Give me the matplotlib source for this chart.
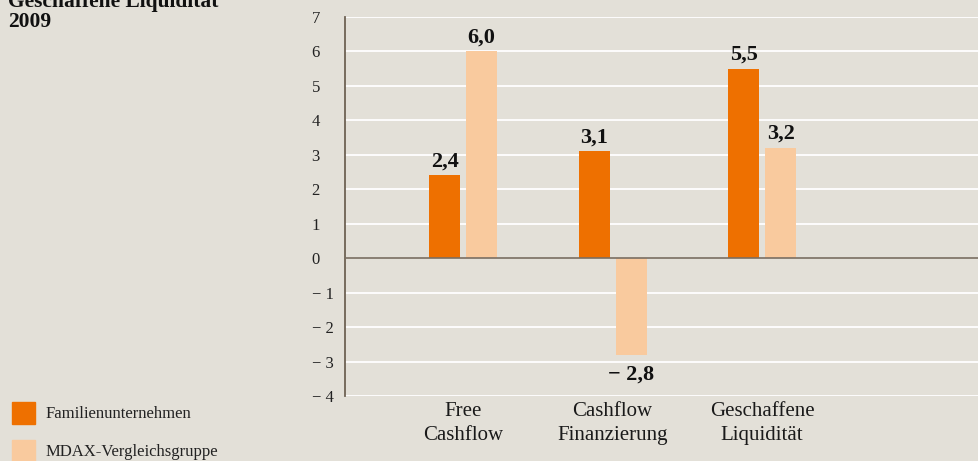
import numpy as np
import matplotlib.pyplot as plt

# data
categories = ['Free\nCashflow', 'Cashflow\nFinanzierung', 'Geschaffene\nLiquidität']
familien = [2.4, 3.1, 5.5]
mdax = [6.0, -2.8, 3.2]
series_names = ['Familienunternehmen', 'MDAX-Vergleichsgruppe']
y_ticks = [7, 6, 5, 4, 3, 2, 1, 0, -1, -2, -3, -4]

bg = '#E3E0D8'
orange = '#EE7000'
light = '#F9CA9E'
serif = 'Liberation Serif'


def fmt(v):
    # German decimal comma, spaced minus sign
    s = f'{abs(v):.1f}'.replace('.', ',')
    return ('\u2212 ' + s) if v < 0 else s


def tick_label(v):
    return ('\u2212 ' + str(abs(v))) if v < 0 else str(v)


fig = plt.figure(figsize=(9.79, 4.61), dpi=100, facecolor=bg)
ax = fig.add_axes([345 / 979, 65 / 461, 634 / 979, 379 / 461])
ax.set_facecolor(bg)

x = np.arange(len(categories))
w = 31 / 149.5
off = 18.5 / 149.5
b1 = ax.bar(x - off, familien, width=w, color=orange, zorder=3)
b2 = ax.bar(x + off, mdax, width=w, color=light, zorder=3)

ax.set_xlim(-0.79, 3.45)
ax.set_ylim(-4, 7)

# gridlines
for t in y_ticks:
    if t != 0:
        ax.axhline(t, color='white', lw=1.3, zorder=1)
ax.axhline(0, color='#7A6E62', lw=1.2, zorder=4)

for s in ['top', 'right', 'bottom']:
    ax.spines[s].set_visible(False)
ax.spines['left'].set_color('#6E6254')
ax.spines['left'].set_linewidth(1.3)

ax.set_yticks(y_ticks)
ax.set_yticklabels([tick_label(t) for t in y_ticks], family=serif, fontsize=12,
                   color='#222222', ha='left')
ax.tick_params(axis='y', length=0, pad=24)
ax.set_xticks(x)
ax.set_xticklabels(categories, family=serif, fontsize=15, color='#1a1a1a',
                   linespacing=1.4)
ax.tick_params(axis='x', length=0, pad=4)

# value labels
for bars, vals in [(b1, familien), (b2, mdax)]:
    for bar, v in zip(bars, vals):
        cx = bar.get_x() + bar.get_width() / 2
        if v >= 0:
            ax.annotate(fmt(v), (cx, v), xytext=(0, 3), textcoords='offset points',
                        ha='center', va='bottom', family=serif, fontsize=16,
                        fontweight='bold', color='#111111')
        else:
            ax.annotate(fmt(v), (cx, v), xytext=(0, -7), textcoords='offset points',
                        ha='center', va='top', family=serif, fontsize=16,
                        fontweight='bold', color='#111111')

# title (partly cut off at top, as in the original)
fig.text(8 / 979, 1 - 27 / 461, 'Geschaffene Liquidität\n2009', family=serif,
         fontsize=15.5, fontweight='bold', color='#111111', va='baseline', ha='left',
         linespacing=1.0)

# legend
for i, (name, col) in enumerate(zip(series_names, [orange, light])):
    ytop = 402 + i * 38
    fig.patches.append(plt.Rectangle((12 / 979, 1 - (ytop + 22) / 461), 23 / 979, 22 / 461,
                                     transform=fig.transFigure, color=col))
    fig.text(46 / 979, 1 - (ytop + 12) / 461, name, family=serif, fontsize=12,
             color='#222222', va='center', ha='left')

fig.savefig('out.png', dpi=100, facecolor=bg)
